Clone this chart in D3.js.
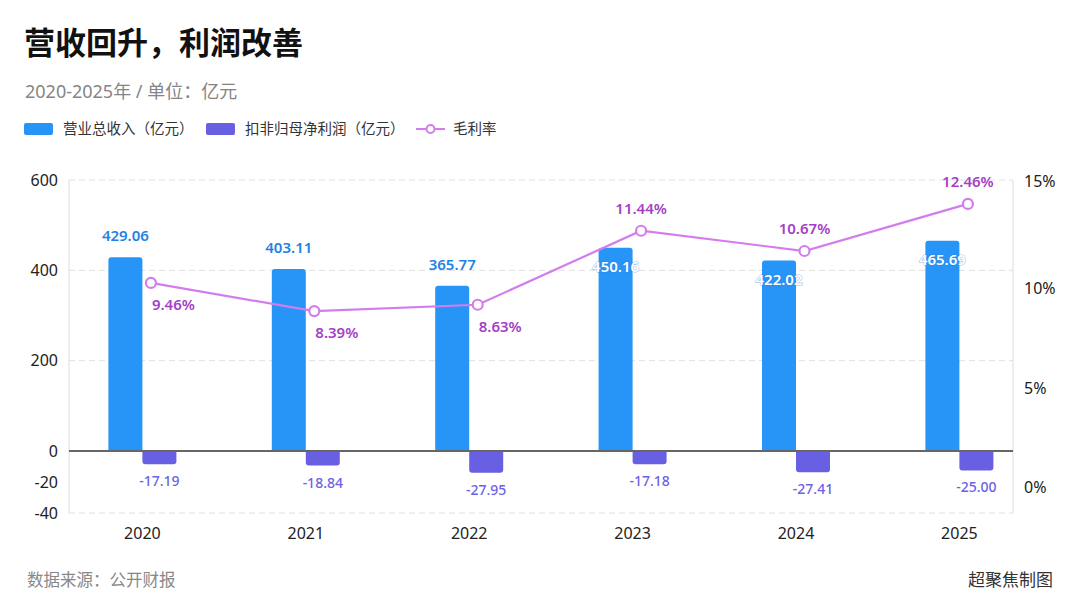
<!DOCTYPE html>
<html>
<head>
<meta charset="utf-8">
<script src="https://cdn.jsdelivr.net/npm/d3@7"></script>
<style>
  html, body { margin: 0; padding: 0; background: #fff; }
  svg { display: block; font-family: "Noto Sans", "Noto Sans CJK SC", sans-serif; }
</style>
</head>
<body>
<div id="chart"></div>
<script>
// Chart data
const years = ["2020", "2021", "2022", "2023", "2024", "2025"];
const revenue = [429.06, 403.11, 365.77, 450.16, 422.02, 465.69];
const netProfit = [-17.19, -18.84, -27.95, -17.18, -27.41, -25.0];
const grossMargin = [9.46, 8.39, 8.63, 11.44, 10.67, 12.46];
const leftTicks = [600, 400, 200, 0, -20, -40];
const rightTicks = [0, 5, 10, 15];

const width = 1080;
const height = 608;
const plot = { left: 69, right: 1013, top: 180, bottom: 513 };
const barW = 34;

const blue = "#2794f7";
const purple = "#685fe2";
const violet = "#d37ded";

const svg = d3.select("#chart").append("svg")
  .attr("width", width)
  .attr("height", height);

svg.append("rect").attr("width", width).attr("height", height).attr("fill", "#fff");

// Scales (left axis is broken: 0..600 compressed, negatives stretched)
const x = d3.scalePoint().domain(years).range([142.4, 959.4]);
const yLeft = d3.scaleLinear().domain([-40, -20, 0, 600]).range([plot.bottom, 482, 451, plot.top]);
const yProfit = d3.scaleLinear().domain([-40, 0]).range([482, 451]);
const yRight = d3.scaleLinear().domain([0, 5, 10, 15]).range([487, 388, 288, 181]);
const yLine = d3.scaleLinear().domain([0, 15]).range([532, 137]);

// Title block
svg.append("text").attr("x", 24).attr("y", 54)
  .attr("font-size", 31).attr("font-weight", 700).attr("fill", "#111")
  .attr("font-family", "'Noto Sans CJK SC', sans-serif")
  .text("营收回升，利润改善");

svg.append("text").attr("x", 25).attr("y", 98)
  .attr("font-size", 18).attr("fill", "#858585")
  .text("2020-2025年 / 单位：亿元");

// Legend
const legend = svg.append("g").attr("transform", "translate(0,129)");
legend.append("rect").attr("x", 24).attr("y", -6).attr("width", 29).attr("height", 12).attr("rx", 2).attr("fill", blue);
legend.append("text").attr("x", 63).attr("dy", "0.35em").attr("font-size", 14.5).attr("fill", "#333").text("营业总收入（亿元）");
legend.append("rect").attr("x", 206).attr("y", -6).attr("width", 29).attr("height", 12).attr("rx", 2).attr("fill", purple);
legend.append("text").attr("x", 245).attr("dy", "0.35em").attr("font-size", 14.5).attr("fill", "#333").text("扣非归母净利润（亿元）");
legend.append("line").attr("x1", 416).attr("x2", 445).attr("stroke", violet).attr("stroke-width", 2);
legend.append("circle").attr("cx", 430.5).attr("r", 4).attr("fill", "#fff").attr("stroke", violet).attr("stroke-width", 2);
legend.append("text").attr("x", 453).attr("dy", "0.35em").attr("font-size", 14.5).attr("fill", "#333").text("毛利率");

// Grid lines
const gridVals = leftTicks.filter((v) => v > 0 || v === -40);
svg.append("g").selectAll("line").data(gridVals).join("line")
  .attr("x1", plot.left).attr("x2", plot.right)
  .attr("y1", (d) => yLeft(d)).attr("y2", (d) => yLeft(d))
  .attr("stroke", "#e0e0e0").attr("stroke-width", 1).attr("stroke-dasharray", "6,4");

// Axis frames
svg.append("line").attr("x1", plot.left).attr("x2", plot.left).attr("y1", plot.top).attr("y2", plot.bottom)
  .attr("stroke", "#dcdcdc").attr("stroke-width", 1);
svg.append("line").attr("x1", plot.right).attr("x2", plot.right).attr("y1", plot.top).attr("y2", plot.bottom)
  .attr("stroke", "#dcdcdc").attr("stroke-width", 1);

// Tick labels
svg.append("g").selectAll("text").data(leftTicks).join("text")
  .attr("x", 58).attr("y", (d) => yLeft(d)).attr("dy", "0.35em")
  .attr("text-anchor", "end").attr("font-size", 16).attr("fill", "#222")
  .text((d) => d);

svg.append("g").selectAll("text").data(rightTicks).join("text")
  .attr("x", 1024).attr("y", (d) => yRight(d)).attr("dy", "0.35em")
  .attr("text-anchor", "start").attr("font-size", 16).attr("fill", "#222")
  .text((d) => d + "%");

svg.append("g").selectAll("text").data(years).join("text")
  .attr("x", (d) => x(d)).attr("y", 533).attr("dy", "0.35em")
  .attr("text-anchor", "middle").attr("font-size", 16).attr("fill", "#222")
  .text((d) => d);

// Path with rounded corners on one end only
function barPath(x0, y0, w, h, r, roundTop) {
  if (roundTop) {
    return `M${x0},${y0 + h}V${y0 + r}Q${x0},${y0} ${x0 + r},${y0}H${x0 + w - r}Q${x0 + w},${y0} ${x0 + w},${y0 + r}V${y0 + h}Z`;
  }
  return `M${x0},${y0}V${y0 + h - r}Q${x0},${y0 + h} ${x0 + r},${y0 + h}H${x0 + w - r}Q${x0 + w},${y0 + h} ${x0 + w},${y0 + h - r}V${y0}Z`;
}

// Revenue bars
svg.append("g").selectAll("path").data(years).join("path")
  .attr("d", (d, i) => {
    const top = yLeft(revenue[i]);
    return barPath(x(d) - barW, top, barW, yLeft(0) - top, 3, true);
  })
  .attr("fill", blue);

// Net profit bars
svg.append("g").selectAll("path").data(years).join("path")
  .attr("d", (d, i) => {
    const bottom = yProfit(netProfit[i]);
    return barPath(x(d), yProfit(0), barW, bottom - yProfit(0), 3, false);
  })
  .attr("fill", purple);

// Zero line
svg.append("line").attr("x1", plot.left).attr("x2", plot.right)
  .attr("y1", yLeft(0)).attr("y2", yLeft(0))
  .attr("stroke", "#666").attr("stroke-width", 2);

// Gross margin line
const pts = years.map((d, i) => [x(d) + 8.5, yLine(grossMargin[i])]);
svg.append("path")
  .attr("d", d3.line()(pts))
  .attr("fill", "none").attr("stroke", violet).attr("stroke-width", 2.2);

svg.append("g").selectAll("circle").data(pts).join("circle")
  .attr("cx", (d) => d[0]).attr("cy", (d) => d[1]).attr("r", 5)
  .attr("fill", "#fff").attr("stroke", violet).attr("stroke-width", 2.2);

// Labels: when the margin point sits above the bar, revenue label goes inside the bar
years.forEach((yr, i) => {
  const top = yLeft(revenue[i]);
  const [px, py] = pts[i];
  const pointAbove = py < top;

  const rev = svg.append("text")
    .attr("x", x(yr) - barW / 2)
    .attr("y", pointAbove ? top + 19 : top - 21)
    .attr("dy", "0.35em").attr("text-anchor", "middle")
    .attr("font-size", 15).attr("font-weight", 600)
    .attr("fill", pointAbove ? "#fff" : "#1f82e4")
    .text(revenue[i].toFixed(2));
  if (pointAbove) {
    rev.attr("stroke", "rgba(40,120,210,0.45)").attr("stroke-width", 1.2)
      .attr("paint-order", "stroke");
  }

  svg.append("text")
    .attr("x", pointAbove ? px : px + 1)
    .attr("y", pointAbove ? py - 22 : py + 22)
    .attr("dy", "0.35em").attr("text-anchor", pointAbove ? "middle" : "start")
    .attr("font-size", 15).attr("font-weight", 600).attr("fill", "#a53fc6")
    .text(grossMargin[i].toFixed(2) + "%");

  svg.append("text")
    .attr("x", x(yr) + barW / 2)
    .attr("y", yProfit(netProfit[i]) + 17)
    .attr("dy", "0.35em").attr("text-anchor", "middle")
    .attr("font-size", 14).attr("font-weight", 500).attr("fill", "#6a62ea")
    .text(netProfit[i].toFixed(2));
});

// Footer
svg.append("text").attr("x", 27).attr("y", 580).attr("dy", "0.35em")
  .attr("font-size", 16.5).attr("fill", "#888")
  .text("数据来源：公开财报");
svg.append("text").attr("x", 1053).attr("y", 580).attr("dy", "0.35em")
  .attr("text-anchor", "end").attr("font-size", 17).attr("fill", "#333")
  .text("超聚焦制图");
</script>
</body>
</html>
